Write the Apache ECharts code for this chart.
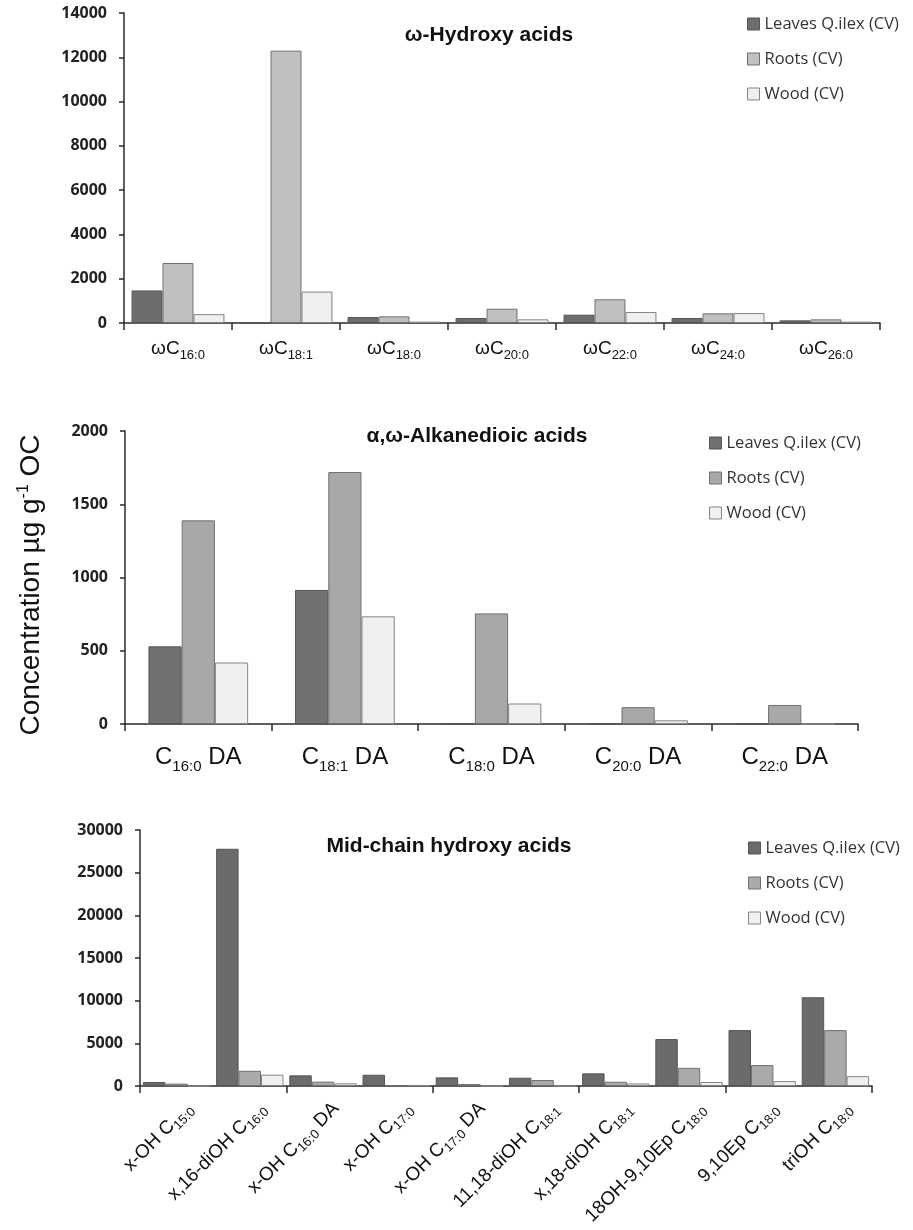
<!DOCTYPE html>
<html><head><meta charset="utf-8">
<script src="https://cdn.jsdelivr.net/npm/echarts@6/dist/echarts.min.js"></script>
<style>html,body{margin:0;padding:0;background:#fff}#c{width:913px;height:1230px}</style>
</head><body><div id="c"></div>
<script>
// ---------- data ----------
const seriesNames = ['Leaves Q.ilex (CV)', 'Roots (CV)', 'Wood (CV)'];

const hydroxyCats = ['ωC16:0', 'ωC18:1', 'ωC18:0', 'ωC20:0', 'ωC22:0', 'ωC24:0', 'ωC26:0'];
const hydroxyLeaves = [1470, 0, 270, 225, 375, 225, 120];
const hydroxyRoots = [2710, 12300, 300, 645, 1070, 435, 165];
const hydroxyWood = [400, 1420, 60, 165, 495, 450, 60];

const diacidCats = ['C16:0 DA', 'C18:1 DA', 'C18:0 DA', 'C20:0 DA', 'C22:0 DA'];
const diacidLeaves = [530, 915, 0, 0, 0];
const diacidRoots = [1390, 1720, 755, 115, 130];
const diacidWood = [420, 735, 140, 25, 0];

const midCats = ['x-OH C15:0', 'x,16-diOH C16:0', 'x-OH C16:0 DA', 'x-OH C17:0', 'x-OH C17:0 DA',
  '11,18-diOH C18:1', 'x,18-diOH C18:1', '18OH-9,10Ep C18:0', '9,10Ep C18:0', 'triOH C18:0'];
const midLeaves = [470, 27800, 1250, 1320, 1010, 970, 1480, 5500, 6550, 10400];
const midRoots = [280, 1780, 510, 80, 230, 700, 500, 2130, 2450, 6550];
const midWood = [0, 1330, 310, 80, 0, 0, 300, 470, 570, 1150];

const hydroxyAxis = { max: 14000, interval: 2000 };
const diacidAxis = { max: 2000, interval: 500 };
const midAxis = { max: 30000, interval: 5000 };

const titles = ['ω-Hydroxy acids', 'α,ω-Alkanedioic acids', 'Mid-chain hydroxy acids'];

// ---------- styles ----------
const colorsTop = ['#6d6d6d', '#c0c0c0', '#efefef'];
const colorsMid = ['#717171', '#a8a8a8', '#f0f0f0'];
const colorsBot = ['#6b6b6b', '#aaaaaa', '#f0f0f0'];
const borderCols = ['#555555', '#707070', '#858585'];
const AX = '#2a2a2a';

const grids = [
  { left: 124, top: 13, width: 756, height: 310 },
  { left: 125, top: 431, width: 733, height: 293 },
  { left: 140, top: 830, width: 732, height: 256 },
  { left: 153, top: 830, width: 732, height: 256 } // label-only grid for rotated labels
];

const subFmt = v => v.replace(/(\d+:\d+)/, '{s|$1}');

function yAxisFor(idx, ax) {
  return {
    type: 'value', gridIndex: idx, min: 0, max: ax.max, interval: ax.interval,
    axisLine: { show: true, lineStyle: { color: AX, width: 1.5 } },
    axisTick: { show: true, length: 5, lineStyle: { color: AX, width: 1.5 } },
    splitLine: { show: false },
    axisLabel: { margin: 17, formatter: v => String(v), fontFamily: 'Open Sans', fontWeight: 'bold', fontSize: 16, color: '#222' }
  };
}
function xAxisFor(idx, cats, label) {
  return {
    type: 'category', gridIndex: idx, data: cats,
    axisLine: { show: true, lineStyle: { color: AX, width: 1.5 } },
    axisTick: { show: true, length: 7, alignWithLabel: false, lineStyle: { color: AX, width: 1.5 } },
    axisLabel: label
  };
}

const legendBase = {
  orient: 'vertical', icon: 'rect', itemWidth: 12, itemHeight: 12, itemGap: 17, padding: 0,
  textStyle: { fontFamily: 'Open Sans', fontSize: 16.5, color: '#333', lineHeight: 18 },
  selectedMode: false
};
function legendFor(left, top, cols) {
  return Object.assign({}, legendBase, {
    left: left, top: top,
    data: seriesNames.map((n, i) => ({ name: n, itemStyle: { color: cols[i], borderColor: borderCols[i], borderWidth: 1 } }))
  });
}

function barSeries(idx, data, cols, gap) {
  return data.map((d, i) => ({
    type: 'bar', name: seriesNames[i], xAxisIndex: idx, yAxisIndex: idx, data: d,
    barGap: '0%', barCategoryGap: gap,
    itemStyle: { color: cols[i], borderColor: borderCols[i], borderWidth: 1 },
    emphasis: { disabled: true }
  }));
}

const titleStyle = { fontFamily: 'Liberation Sans', fontWeight: 'bold', fontSize: 21, color: '#111' };

const option = {
  animation: false,
  backgroundColor: '#fff',
  title: [
    { text: titles[0], left: 489, top: 25, textAlign: 'center', padding: 0, textStyle: titleStyle },
    { text: titles[1], left: 477, top: 426, textAlign: 'center', padding: 0, textStyle: titleStyle },
    { text: titles[2], left: 449, top: 836, textAlign: 'center', padding: 0, textStyle: titleStyle }
  ],
  legend: [
    legendFor(747, 15, colorsTop),
    legendFor(709, 434, colorsMid),
    legendFor(748, 839, colorsBot)
  ],
  grid: grids,
  xAxis: [
    xAxisFor(0, hydroxyCats, { interval: 0, margin: 12, formatter: subFmt, fontFamily: 'Liberation Sans', fontSize: 19, color: '#111',
      rich: { s: { fontFamily: 'Liberation Sans', fontSize: 13, color: '#111', padding: [14, 0, 0, 0] } } }),
    xAxisFor(1, diacidCats, { interval: 0, margin: 17, formatter: subFmt, fontFamily: 'Liberation Sans', fontSize: 24, color: '#111',
      rich: { s: { fontFamily: 'Liberation Sans', fontSize: 15, color: '#111', padding: [18, 0, 0, 0] } } }),
    xAxisFor(2, midCats, { show: false }),
    {
      type: 'category', gridIndex: 3, data: midCats,
      axisLine: { show: false }, axisTick: { show: false },
      axisLabel: { interval: 0, rotate: 45, margin: 23, formatter: subFmt, fontFamily: 'Liberation Sans', fontSize: 19, color: '#111',
        rich: { s: { fontFamily: 'Liberation Sans', fontSize: 13, color: '#111', padding: [12, 0, 0, 0] } } }
    }
  ],
  yAxis: [
    yAxisFor(0, hydroxyAxis),
    yAxisFor(1, diacidAxis),
    yAxisFor(2, midAxis),
    { type: 'value', gridIndex: 3, show: false, min: 0, max: 1 }
  ],
  graphic: [{
    type: 'text', x: 31, y: 585, rotation: Math.PI / 2,
    style: {
      text: 'Concentration µg g{sup|-1} OC',
      fontFamily: 'Liberation Sans', fontSize: 28, fill: '#111',
      align: 'center', verticalAlign: 'middle',
      rich: { sup: { fontFamily: 'Liberation Sans', fontSize: 16, fill: '#111', padding: [0, 0, 14, 0] } }
    }
  }],
  series: [].concat(
    barSeries(0, [hydroxyLeaves, hydroxyRoots, hydroxyWood], colorsTop, '14%'),
    barSeries(1, [diacidLeaves, diacidRoots, diacidWood], colorsMid, '32%'),
    barSeries(2, [midLeaves, midRoots, midWood], colorsBot, '8%')
  )
};

const chart = echarts.init(document.getElementById('c'), null, { renderer: 'canvas' });
chart.setOption(option);
</script>
</body></html>
